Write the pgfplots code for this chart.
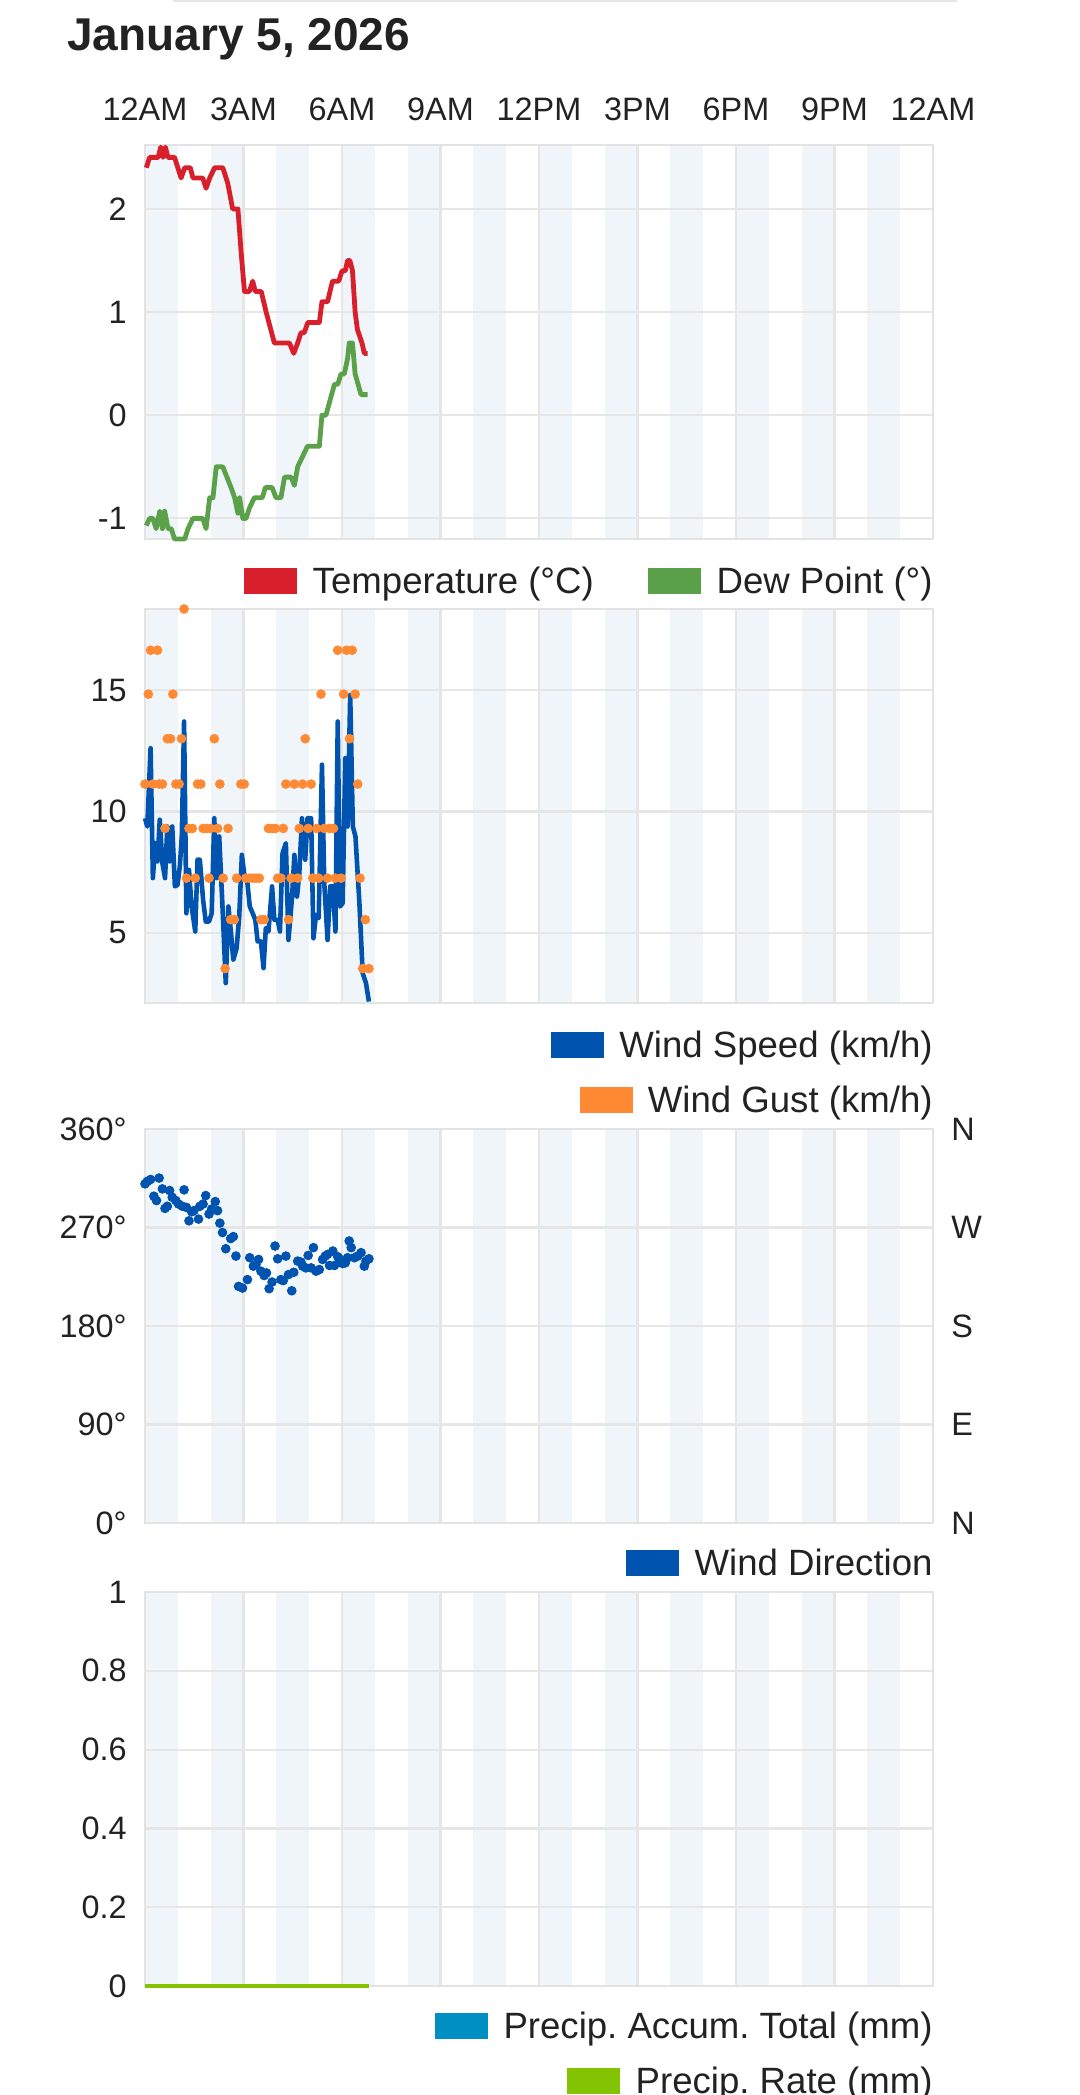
\documentclass[border=0pt]{standalone}
\usepackage{fontspec}
\setmainfont{Liberation Sans}
\usepackage{pgfplots}
\pgfplotsset{compat=1.18}
\usetikzlibrary{calc}
\frenchspacing

\definecolor{txt}{HTML}{222222}
\definecolor{gridc}{HTML}{E6E6E6}
\definecolor{framec}{HTML}{E3E3E3}
\definecolor{bandc}{HTML}{F0F5FA}
\definecolor{tempc}{HTML}{D7202B}
\definecolor{dewc}{HTML}{5BA14A}
\definecolor{windc}{HTML}{0054B0}
\definecolor{gustc}{HTML}{FF8A33}
\definecolor{accc}{HTML}{008FC2}
\definecolor{ratec}{HTML}{84C300}

\newcommand{\legfont}{\fontsize{18.3}{21}\selectfont}
\newcommand{\legentry}[4]{%
  \node[anchor=base east, inner sep=0pt, text=txt, font=\legfont] (#1) at (#3) {#4};
  \fill[#2] ([xshift=-7.5pt,yshift=-0.2pt]#1.base west) rectangle ++(-26.5pt,13pt);
}

\pgfplotsset{
  panel/.style={
    scale only axis, width=394pt, height=197pt, anchor=north west,
    xmin=0, xmax=24, xtick={0,3,...,24},
    xmajorgrids, ymajorgrids,
    grid style={draw=gridc, line width=1.1pt},
    axis line style={draw=framec, line width=1.4pt},
    major tick length=0pt,
    xticklabels={},
    yticklabel style={anchor=east, inner sep=0pt, xshift=-9pt},
    tick label style={font=\fontsize{16.2}{19}\selectfont, text=txt},
    /pgf/number format/assume math mode=true,
    clip=false,
  },
}

\begin{document}
\begin{tikzpicture}
% background bands (every other hour)
\foreach \t in {72.5,304.5,564.5,796} {
  \foreach \k in {0,...,11} {
    \fill[bandc] ({(72.5+\k*32.8333)*1pt},{-\t*1pt}) rectangle ++(16.4167pt,-197pt);
  }
}
% thin line at the very top
\draw[gridc, line width=1pt] (86.5pt,-0.5pt) -- (478.5pt,-0.5pt);
% title
\node[anchor=base west, inner sep=0pt, text=txt, font=\fontsize{23}{26}\selectfont\bfseries] at (33.5pt,-25pt) {January 5, 2026};

% ---------- Panel 1: temperature / dew point
\begin{axis}[panel, at={(72.5pt,-72.5pt)},
  ymin=-1.2, ymax=2.62, ytick={-1,0,1,2}, yticklabels={-1,0,1,2},
  xticklabels={12AM,3AM,6AM,9AM,12PM,3PM,6PM,9PM,12AM},
  xticklabel pos=right,
  xticklabel style={anchor=base, inner sep=0pt, yshift=12.5pt},
]
\addplot[tempc, line width=2.4pt, line join=round, no markers] coordinates {
(0.04,2.4)(0.14,2.5)(0.40,2.5)(0.48,2.6)(0.55,2.5)(0.62,2.6)(0.70,2.5)(0.90,2.5)
(1.00,2.4)(1.10,2.3)(1.21,2.4)(1.38,2.4)(1.46,2.3)(1.76,2.3)(1.86,2.2)(1.97,2.3)
(2.12,2.4)(2.37,2.4)(2.52,2.25)(2.67,2.0)(2.83,2.0)(2.93,1.57)(3.03,1.2)(3.18,1.2)
(3.28,1.3)(3.36,1.2)(3.54,1.2)(3.69,1.0)(3.94,0.7)(4.40,0.7)(4.53,0.6)(4.65,0.7)
(4.75,0.8)(4.85,0.8)(4.96,0.9)(5.31,0.9)(5.39,1.1)(5.56,1.1)(5.71,1.3)(5.90,1.3)
(6.00,1.4)(6.10,1.4)(6.17,1.5)(6.24,1.5)(6.32,1.4)(6.40,1.0)(6.47,0.83)(6.61,0.7)
(6.68,0.6)(6.78,0.6)
};
\addplot[dewc, line width=2.4pt, line join=round, no markers] coordinates {
(0.04,-1.07)(0.14,-1.0)(0.24,-1.0)(0.34,-1.1)(0.45,-0.93)(0.53,-1.1)(0.60,-0.93)
(0.70,-1.1)(0.80,-1.1)(0.90,-1.2)(1.21,-1.2)(1.31,-1.1)(1.46,-1.0)(1.76,-1.0)
(1.86,-1.1)(1.97,-0.8)(2.07,-0.8)(2.17,-0.5)(2.37,-0.5)(2.62,-0.7)(2.73,-0.8)
(2.83,-0.95)(2.88,-0.8)(2.98,-1.0)(3.08,-1.0)(3.18,-0.9)(3.33,-0.8)(3.57,-0.8)
(3.67,-0.7)(3.87,-0.7)(3.99,-0.8)(4.14,-0.8)(4.25,-0.6)(4.45,-0.6)(4.55,-0.68)
(4.65,-0.5)(4.80,-0.4)(4.95,-0.3)(5.31,-0.3)(5.39,0.0)(5.51,0.0)(5.77,0.3)
(5.87,0.3)(5.97,0.4)(6.07,0.4)(6.17,0.55)(6.22,0.7)(6.32,0.7)(6.40,0.4)
(6.58,0.2)(6.78,0.2)
};
\end{axis}

% ---------- Panel 2: wind speed / gust
\begin{axis}[panel, at={(72.5pt,-304.5pt)},
  ymin=2.1, ymax=18.35, ytick={5,10,15}, yticklabels={5,10,15},
]
\addplot[windc, line width=2.3pt, line join=round, no markers] coordinates {
(0.00,9.72)(0.07,9.38)(0.17,12.61)(0.24,7.25)(0.31,8.69)(0.38,7.94)(0.45,9.66)
(0.53,7.87)(0.61,7.25)(0.68,9.38)(0.75,7.94)(0.83,9.38)(0.91,6.91)(0.99,6.97)
(1.06,7.73)(1.12,8.97)(1.19,13.71)(1.26,5.80)(1.34,7.59)(1.42,6.08)(1.53,5.05)
(1.60,8.01)(1.67,8.01)(1.77,6.35)(1.85,5.46)(1.95,5.46)(2.03,5.80)(2.11,9.72)
(2.18,7.25)(2.26,8.97)(2.36,6.08)(2.46,2.92)(2.54,6.08)(2.61,5.12)(2.69,3.88)
(2.79,4.36)(2.87,5.67)(2.95,8.21)(3.02,7.46)(3.12,7.04)(3.19,6.08)(3.28,5.80)
(3.36,5.53)(3.43,4.64)(3.53,4.64)(3.61,3.54)(3.68,5.19)(3.76,5.05)(3.87,6.91)
(3.94,5.53)(4.04,5.53)(4.11,5.05)(4.19,8.28)(4.29,8.69)(4.37,4.70)(4.48,6.49)
(4.55,8.21)(4.63,6.49)(4.70,7.46)(4.78,9.72)(4.88,8.01)(4.95,9.72)(5.06,9.72)
(5.13,4.77)(5.21,5.74)(5.29,5.60)(5.39,11.93)(5.46,7.04)(5.56,4.70)(5.64,6.91)
(5.72,6.91)(5.80,5.05)(5.87,13.71)(5.94,6.08)(6.02,6.22)(6.10,12.20)(6.17,9.38)
(6.25,14.81)(6.33,9.38)(6.41,8.97)(6.53,6.22)(6.63,3.33)(6.73,2.92)(6.82,2.16)
};
\addplot[only marks, mark=*, mark size=2.2pt, gustc, mark options={draw=none, fill=gustc}] coordinates {
(0.00,11.13)(0.10,14.84)(0.17,16.65)(0.24,11.13)(0.38,16.65)(0.43,11.13)(0.53,11.13)
(0.61,9.3)(0.68,13.0)(0.78,13.0)(0.85,14.84)(0.94,11.13)(1.04,11.13)(1.11,13.0)
(1.19,18.35)(1.26,7.25)(1.34,9.3)(1.44,9.3)(1.53,7.25)(1.60,11.13)(1.70,11.13)
(1.77,9.3)(1.87,9.3)(1.95,7.25)(2.00,9.3)(2.11,13.0)(2.21,9.3)(2.28,11.13)
(2.38,7.25)(2.44,3.52)(2.53,9.3)(2.61,5.54)(2.72,5.54)(2.79,7.25)(2.92,11.13)
(3.02,11.13)(3.07,7.25)(3.17,7.25)(3.28,7.25)(3.38,7.25)(3.48,7.25)(3.53,5.54)
(3.63,5.54)(3.76,9.3)(3.87,9.3)(3.97,9.3)(4.04,7.25)(4.14,7.25)(4.21,9.3)
(4.29,11.13)(4.37,5.54)(4.45,7.25)(4.55,11.13)(4.65,7.25)(4.70,9.3)(4.80,11.13)
(4.88,13.0)(4.97,9.3)(5.06,11.13)(5.11,7.25)(5.23,9.3)(5.29,7.25)(5.36,14.84)
(5.46,9.3)(5.56,7.25)(5.62,9.3)(5.74,9.3)(5.80,7.25)(5.87,16.65)(5.97,7.25)
(6.05,14.84)(6.14,16.65)(6.23,13.0)(6.31,16.65)(6.40,14.84)(6.48,11.13)(6.55,7.25)
(6.63,3.52)(6.71,5.54)(6.82,3.52)
};
\end{axis}

% ---------- Panel 3: wind direction
\begin{axis}[panel, at={(72.5pt,-564.5pt)},
  ymin=0, ymax=360, ytick={0,90,180,270,360},
  yticklabels={0°,90°,180°,270°,360°},
]
\addplot[only marks, mark=*, mark size=2.2pt, windc, mark options={draw=none, fill=windc}] coordinates {
(0.00,309.9)(0.07,312.1)(0.17,313.9)(0.43,315.2)(0.27,298.6)(0.35,294.6)(0.53,305.3)
(0.61,287.5)(0.68,289.4)(0.75,303.8)(0.83,297.6)(0.94,294.6)(1.02,291.5)(1.19,304.4)
(1.14,289.4)(1.26,288.4)(1.34,276.1)(1.42,284.4)(1.49,285.4)(1.63,277.7)(1.67,289.4)
(1.77,291.5)(1.85,299.2)(1.95,282.3)(2.03,286.9)(2.14,293.7)(2.21,285.4)(2.28,274.0)
(2.36,265.4)(2.46,250.6)(2.61,259.9)(2.69,261.7)(2.77,243.9)(2.85,216.2)(2.97,214.7)
(3.12,222.4)(3.19,242.4)(3.30,234.7)(3.38,236.2)(3.46,240.8)(3.53,230.1)(3.63,226.1)
(3.70,228.5)(3.78,214.1)(3.87,220.2)(3.96,253.1)(4.04,241.4)(4.14,222.4)(4.21,221.5)
(4.29,243.9)(4.37,227.0)(4.47,212.2)(4.53,229.1)(4.65,239.3)(4.75,238.4)(4.80,234.7)
(4.90,233.1)(4.97,244.5)(5.06,233.1)(5.13,251.6)(5.21,230.1)(5.31,231.6)(5.41,240.8)
(5.49,243.9)(5.56,245.4)(5.62,235.3)(5.72,248.5)(5.77,235.3)(5.87,243.3)(5.92,241.4)
(6.02,237.1)(6.10,237.7)(6.17,242.4)(6.22,257.7)(6.28,251.6)(6.38,242.4)(6.48,243.9)
(6.58,247.0)(6.68,234.7)(6.73,239.3)(6.82,241.4)
};
\end{axis}
\begin{scope}[every node/.style={anchor=west, inner sep=0pt, text=txt, font=\fontsize{16.2}{19}\selectfont}]
\node at (475.5pt,-564.5pt) {N};
\node at (475.5pt,-613.75pt) {W};
\node at (475.5pt,-663pt) {S};
\node at (475.5pt,-712.25pt) {E};
\node at (475.5pt,-761.5pt) {N};
\end{scope}

% ---------- Panel 4: precipitation
\begin{axis}[panel, at={(72.5pt,-796pt)},
  ymin=0, ymax=1, ytick={0,0.2,0.4,0.6,0.8,1},
  yticklabels={0,0.2,0.4,0.6,0.8,1},
]
\addplot[accc, line width=2.4pt, no markers] coordinates {(0,0)(6.83,0)};
\addplot[ratec, line width=2.4pt, no markers] coordinates {(0,0)(6.83,0)};
\end{axis}

% ---------- Legends
\legentry{dp}{dewc}{466.5pt,-296.8pt}{Dew Point (°)}
\legentry{tp}{tempc}{[xshift=-61pt]dp.base west}{Temperature (°C)}
\legentry{ws}{windc}{466.5pt,-528.8pt}{Wind Speed (km/h)}
\legentry{wg}{gustc}{466.5pt,-556.3pt}{Wind Gust (km/h)}
\legentry{wd}{windc}{466.5pt,-787.8pt}{Wind Direction}
\legentry{pa}{accc}{466.5pt,-1019.3pt}{Precip. Accum. Total (mm)}
\legentry{pr}{ratec}{466.5pt,-1046.8pt}{Precip. Rate (mm)}

\pgfresetboundingbox
\useasboundingbox (0,0) rectangle (540pt,-1047.5pt);
\end{tikzpicture}
\end{document}
